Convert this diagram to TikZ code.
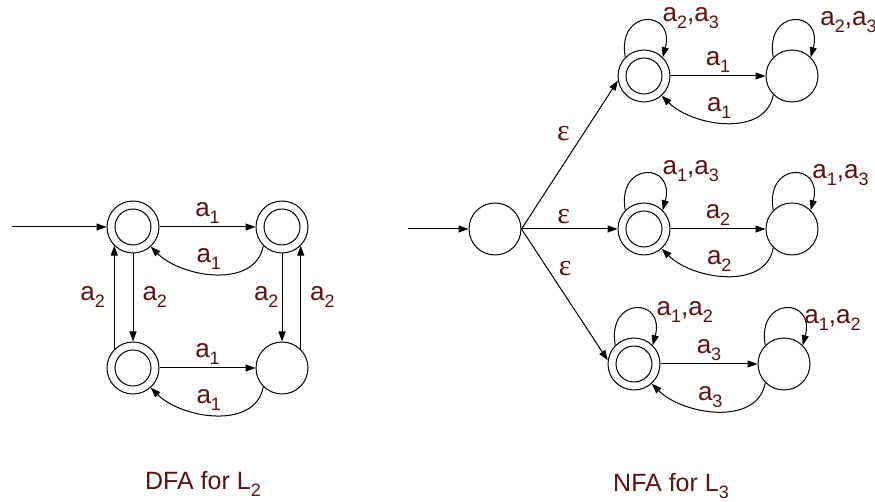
\documentclass[tikz,border=0pt]{standalone}
\usepackage{fontspec}
\setmainfont{Liberation Sans}
\newfontfamily\epsfont{Liberation Serif}
\usepackage{xcolor}
\definecolor{cLabel}{HTML}{5E1010}
\usetikzlibrary{positioning,arrows.meta}
\newcommand{\lsub}[1]{\raisebox{-3.5pt}{\fontsize{9}{10}\selectfont #1}}
\newcommand{\asym}[1]{a\lsub{#1}}
\newcommand{\epsl}{{\epsfont\fontsize{15}{16}\selectfont ε}}
\tikzset{
  node-state/.style={draw,circle,minimum size=26pt,inner sep=0pt,line width=0.5pt},
  % accepting state: second ring drawn inside the node
  node-accept/.style={node-state,path picture={\draw[line width=0.5pt]
    (path picture bounding box.center) circle (9pt);}},
  arrow/.style={-{Triangle[length=5pt,width=3.5pt]},line width=0.5pt},
  edge-label/.style={text=cLabel,font=\fontsize{13}{15}\selectfont,inner sep=1.5pt},
  loop-label/.style={edge-label,anchor=south west,inner sep=0.5pt},
  cap-text/.style={text=cLabel,font=\fontsize{12.5}{14}\selectfont,anchor=base},
}
\begin{document}
\begin{tikzpicture}[x=0.5pt,y=0.5pt]
  \useasboundingbox (0,0) rectangle (875,502);
  % DFA for L2
  \node[node-accept] (q1) at (133,275) {};
  \node[node-accept,right=48pt of q1] (q2) {};
  \node[node-accept,below=44pt of q1] (q3) {};
  \node[node-state,right=48pt of q3] (q4) {};
  \coordinate (dfa-in) at (12,275);
  \draw[arrow] (dfa-in) -- (q1);
  \draw[arrow] (q1) -- node[edge-label,above] {\asym{1}} (q2);
  \draw[arrow] (q2.-135) to[out=-100,in=-45] node[edge-label,above,pos=0.55] {\asym{1}} (q1.-48);
  \draw[arrow] (q3) -- node[edge-label,above] {\asym{1}} (q4);
  \draw[arrow] (q4.-135) to[out=-100,in=-45] node[edge-label,above,pos=0.55] {\asym{1}} (q3.-48);
  \draw[arrow] (q1) -- node[edge-label,right=3pt] {\asym{2}} (q3);
  \draw[arrow] (q3.135) -- node[edge-label,left=3pt] {\asym{2}} (q1.-135);
  \draw[arrow] (q2) -- node[edge-label,left] {\asym{2}} (q4);
  \draw[arrow] (q4.45) -- node[edge-label,right=3pt] {\asym{2}} (q2.-45);
  \node[cap-text] (cap-dfa) at (203,12) {DFA for L\lsub{2}};

  % NFA for L3
  \node[node-state] (s) at (495,273) {};
  \node[node-accept,right=48pt of s] (A2) {};
  \node[node-state,right=47.5pt of A2] (B2) {};
  \node[node-accept,above=50pt of A2] (A1) {};
  \node[node-state,right=47.5pt of A1] (B1) {};
  \node[node-accept,below=41pt of A2,xshift=-5pt] (A3) {};
  \node[node-state,right=48.5pt of A3] (B3) {};
  \coordinate (nfa-in) at (408,273);
  \draw[arrow] (nfa-in) -- (s);
  \draw[arrow] (s.east) -- node[edge-label,left=5pt,pos=0.64] {\epsl} (A1.190);
  \draw[arrow] (s.east) -- node[edge-label,above=1pt,pos=0.44] {\epsl} (A2);
  \draw[arrow] (s.east) -- node[edge-label,right=4pt,pos=0.3] {\epsl} (A3.172);

  \draw[arrow] (A1) -- node[edge-label,above] {\asym{1}} (B1);
  \draw[arrow] (B1.-135) to[out=-100,in=-45] node[edge-label,above,pos=0.55] {\asym{1}} (A1.-48);
  \draw[arrow] (A2) -- node[edge-label,above] {\asym{2}} (B2);
  \draw[arrow] (B2.-135) to[out=-100,in=-45] node[edge-label,above,pos=0.55] {\asym{2}} (A2.-48);
  \draw[arrow] (A3) -- node[edge-label,above] {\asym{3}} (B3);
  \draw[arrow] (B3.-135) to[out=-100,in=-45] node[edge-label,above,pos=0.55] {\asym{3}} (A3.-48);

  % self loops
  \draw[arrow] (A1.135) .. controls +(100:25pt) and +(75:25pt) .. (A1.45)
    node[loop-label,pos=0.75] {\asym{2},\asym{3}};
  \draw[arrow] (B1.135) .. controls +(100:25pt) and +(75:25pt) .. (B1.45)
    node[loop-label,pos=0.8,xshift=4pt] {\asym{2},\asym{3}};
  \draw[arrow] (A2.135) .. controls +(100:25pt) and +(75:25pt) .. (A2.45)
    node[loop-label,pos=0.75] {\asym{1},\asym{3}};
  \draw[arrow] (B2.135) .. controls +(100:25pt) and +(75:25pt) .. (B2.45)
    node[loop-label,pos=0.8] {\asym{1},\asym{3}};
  \draw[arrow] (A3.135) .. controls +(100:25pt) and +(75:25pt) .. (A3.45)
    node[loop-label,pos=0.75,xshift=2pt,yshift=-3pt] {\asym{1},\asym{2}};
  \draw[arrow] (B3.135) .. controls +(100:25pt) and +(75:25pt) .. (B3.45)
    node[loop-label,pos=0.8,yshift=-5pt] {\asym{1},\asym{2}};
  \node[cap-text] (cap-nfa) at (671,10) {NFA for L\lsub{3}};
\end{tikzpicture}
\end{document}
